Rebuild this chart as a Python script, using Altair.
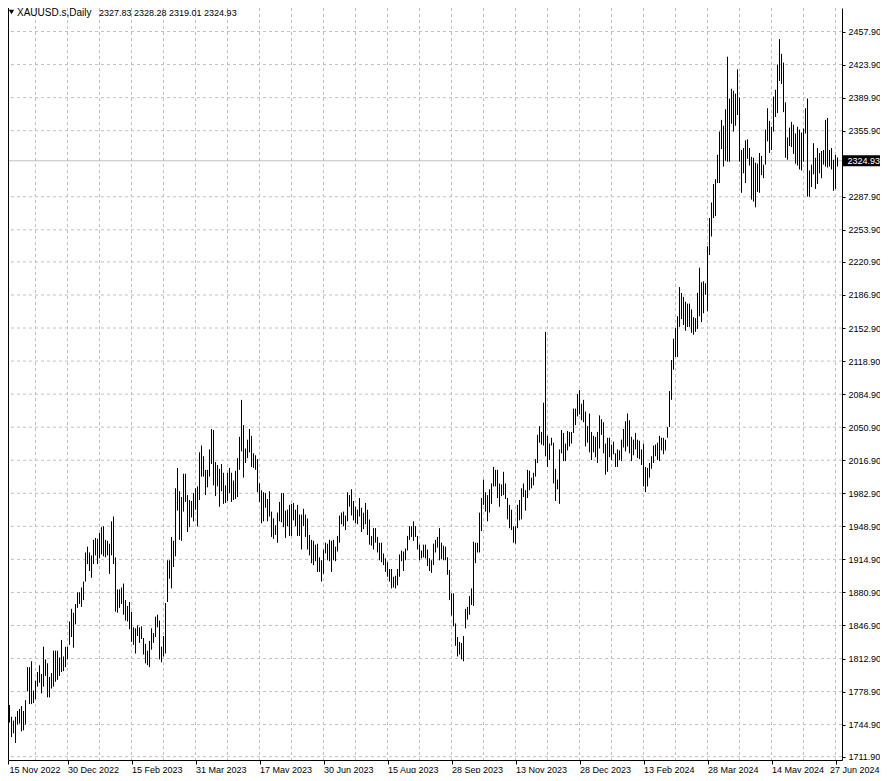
import altair as alt
import pandas as pd

symbol = "XAUUSD.s"
timeframe = "Daily"
last_ohlc = [2327.83, 2328.28, 2319.01, 2324.93]

highs = [
    1787, 1785, 1775, 1765, 1753, 1749, 1753, 1759, 1761, 1764,
    1759, 1770, 1804, 1804, 1810, 1780, 1790, 1799, 1806, 1797,
    1825, 1812, 1808, 1794, 1798, 1821, 1821, 1821, 1814, 1832,
    1815, 1825, 1825, 1851, 1864, 1860, 1869, 1881, 1881, 1886,
    1892, 1922, 1928, 1922, 1919, 1935, 1937, 1936, 1942, 1948,
    1949, 1935, 1934, 1931, 1954, 1959, 1917, 1884, 1884, 1886,
    1890, 1873, 1867, 1871, 1861, 1845, 1844, 1847, 1845, 1846,
    1834, 1828, 1821, 1831, 1844, 1839, 1856, 1858, 1852, 1825,
    1836, 1870, 1914, 1914, 1938, 1934, 1988, 2009, 1985, 1979,
    2003, 2003, 1981, 1976, 1975, 1983, 1988, 1990, 2025, 2032,
    2021, 2007, 2007, 2028, 2049, 2048, 2015, 2012, 2008, 2013,
    2004, 1991, 2004, 2009, 2004, 1996, 2006, 2019, 2041, 2079,
    2053, 2029, 2038, 2049, 2042, 2024, 2022, 2018, 1993, 1986,
    1984, 1983, 1977, 1985, 1964, 1957, 1950, 1963, 1974, 1983,
    1983, 1965, 1966, 1971, 1972, 1973, 1966, 1971, 1961, 1961,
    1967, 1961, 1957, 1940, 1935, 1934, 1930, 1931, 1917, 1914,
    1925, 1932, 1931, 1935, 1934, 1935, 1928, 1939, 1960, 1963,
    1964, 1960, 1984, 1981, 1987, 1975, 1969, 1966, 1978, 1968,
    1963, 1973, 1966, 1956, 1939, 1947, 1947, 1938, 1932, 1932,
    1921, 1916, 1912, 1905, 1905, 1897, 1898, 1905, 1920, 1924,
    1923, 1926, 1939, 1949, 1949, 1954, 1949, 1939, 1930, 1924,
    1930, 1930, 1925, 1916, 1914, 1931, 1935, 1938, 1947, 1932,
    1929, 1928, 1917, 1904, 1880, 1880, 1849, 1835, 1830, 1829,
    1836, 1864, 1866, 1877, 1885, 1933, 1932, 1932, 1963, 1978,
    1997, 1984, 1981, 1987, 1993, 2010, 2007, 2007, 1993, 1992,
    2005, 1993, 1978, 1971, 1966, 1949, 1949, 1971, 1976, 1988,
    1993, 1986, 2007, 2006, 1999, 2004, 2018, 2043, 2052, 2046,
    2076, 2149, 2042, 2034, 2040, 2035, 2008, 1997, 2028, 2048,
    2045, 2034, 2047, 2046, 2046, 2070, 2070, 2085, 2089, 2075,
    2079, 2067, 2052, 2065, 2046, 2042, 2041, 2046, 2063, 2059,
    2056, 2034, 2040, 2040, 2033, 2036, 2024, 2028, 2027, 2038,
    2049, 2057, 2065, 2058, 2041, 2038, 2045, 2038, 2037, 2028,
    2034, 2010, 2009, 2014, 2021, 2032, 2033, 2035, 2042, 2040,
    2040, 2038, 2051, 2088, 2120, 2142, 2153, 2165, 2195, 2189,
    2185, 2180, 2178, 2178, 2172, 2164, 2163, 2189, 2215, 2200,
    2201, 2199, 2237, 2266, 2282, 2301, 2306, 2331, 2355, 2367,
    2361, 2378, 2432, 2389, 2399, 2397, 2394, 2419, 2390, 2336,
    2338, 2346, 2347, 2338, 2329, 2328, 2323, 2322, 2333, 2330,
    2321, 2357, 2379, 2366, 2360, 2391, 2398, 2424, 2450, 2435,
    2426, 2385, 2349, 2359, 2365, 2362, 2353, 2360, 2357, 2354,
    2358, 2379, 2389, 2315, 2321, 2343, 2328, 2338, 2333, 2335,
    2336, 2367, 2369, 2336, 2338, 2326, 2331, 2328.28,
]

lows = [
    1766, 1768, 1756, 1747, 1732, 1736, 1726, 1745, 1746, 1738,
    1739, 1745, 1779, 1766, 1766, 1767, 1771, 1784, 1788, 1777,
    1784, 1795, 1773, 1773, 1782, 1784, 1789, 1791, 1795, 1799,
    1800, 1804, 1812, 1827, 1835, 1824, 1848, 1865, 1869, 1866,
    1873, 1892, 1910, 1903, 1896, 1910, 1919, 1910, 1916, 1920,
    1918, 1917, 1919, 1900, 1919, 1910, 1861, 1860, 1865, 1869,
    1858, 1852, 1851, 1843, 1830, 1827, 1818, 1836, 1829, 1833,
    1817, 1808, 1806, 1804, 1822, 1829, 1835, 1845, 1812, 1809,
    1815, 1818, 1871, 1895, 1885, 1907, 1918, 1965, 1935, 1934,
    1964, 1974, 1943, 1948, 1958, 1954, 1966, 1949, 1976, 2000,
    2000, 1981, 1989, 2000, 2013, 1991, 1980, 1990, 1969, 1985,
    1972, 1973, 1975, 1983, 1974, 1976, 1977, 1979, 2007, 2026,
    1999, 2014, 2019, 2025, 2010, 2009, 2007, 1984, 1974, 1952,
    1954, 1968, 1954, 1959, 1938, 1936, 1940, 1932, 1954, 1953,
    1948, 1937, 1949, 1939, 1939, 1955, 1949, 1939, 1939, 1925,
    1949, 1938, 1925, 1919, 1911, 1909, 1913, 1902, 1902, 1892,
    1900, 1921, 1914, 1913, 1902, 1914, 1913, 1923, 1932, 1951,
    1949, 1945, 1954, 1969, 1960, 1955, 1952, 1951, 1959, 1943,
    1946, 1951, 1940, 1930, 1929, 1925, 1932, 1922, 1914, 1912,
    1909, 1902, 1897, 1892, 1885, 1886, 1885, 1888, 1897, 1913,
    1903, 1914, 1924, 1935, 1938, 1934, 1938, 1925, 1914, 1916,
    1917, 1916, 1908, 1903, 1901, 1909, 1922, 1927, 1914, 1915,
    1914, 1914, 1899, 1873, 1857, 1846, 1826, 1815, 1817, 1812,
    1810, 1844, 1853, 1858, 1868, 1867, 1911, 1922, 1922, 1944,
    1971, 1964, 1954, 1963, 1972, 1990, 1990, 1978, 1969, 1980,
    1981, 1977, 1956, 1947, 1945, 1932, 1931, 1947, 1955, 1956,
    1979, 1965, 1978, 1986, 1988, 1991, 2000, 2014, 2035, 2033,
    2032, 2021, 2010, 2017, 2032, 1993, 1975, 1987, 1972, 2024,
    2016, 2016, 2027, 2031, 2034, 2045, 2053, 2062, 2064, 2058,
    2056, 2031, 2035, 2025, 2017, 2025, 2020, 2014, 2029, 2043,
    2024, 2002, 2005, 2020, 2017, 2023, 2010, 2010, 2017, 2016,
    2030, 2026, 2031, 2024, 2016, 2022, 2028, 2019, 2018, 2012,
    1990, 1984, 1990, 1999, 2008, 2014, 2021, 2017, 2016, 2027,
    2023, 2027, 2040, 2051, 2079, 2110, 2123, 2123, 2154, 2162,
    2156, 2150, 2154, 2154, 2148, 2146, 2149, 2152, 2165, 2159,
    2168, 2187, 2170, 2228, 2247, 2266, 2268, 2302, 2302, 2337,
    2319, 2325, 2324, 2324, 2363, 2355, 2361, 2372, 2324, 2292,
    2312, 2302, 2327, 2320, 2285, 2283, 2277, 2293, 2292, 2310,
    2307, 2321, 2345, 2333, 2336, 2355, 2370, 2374, 2407, 2404,
    2375, 2328, 2326, 2340, 2339, 2332, 2322, 2320, 2316, 2315,
    2324, 2353, 2288, 2288, 2298, 2311, 2296, 2301, 2312, 2307,
    2321, 2319, 2318, 2319, 2316, 2294, 2296, 2319.01,
]

x_tick_labels = [
    "15 Nov 2022", "30 Dec 2022", "15 Feb 2023", "31 Mar 2023",
    "17 May 2023", "30 Jun 2023", "15 Aug 2023", "28 Sep 2023",
    "13 Nov 2023", "28 Dec 2023", "13 Feb 2024", "28 Mar 2024",
    "14 May 2024", "27 Jun 2024",
]
x_label_step = 32
x_grid_step = 16

y_tick_values = [
    2457.90, 2423.90, 2389.90, 2355.90, 2287.90, 2253.90, 2220.90,
    2186.90, 2152.90, 2118.90, 2084.90, 2050.90, 2016.90, 1982.90,
    1948.90, 1914.90, 1880.90, 1846.90, 1812.90, 1778.90, 1744.90,
    1711.90,
]

FONT = "Liberation Sans"
GRID = "#c0c0c0"
W, H = 834, 752

n = len(highs)
bars = pd.DataFrame({"i": list(range(n)), "high": highs, "low": lows})

# 2 px per bar; last bar sits 4.5 px left of the price axis
x_domain = [2.25, 2.25 + W / 2]
xs = alt.Scale(domain=x_domain, nice=False, zero=False)
ys = alt.Scale(domain=[1708.5, 2482.1], nice=False, zero=False)

x_label_idx = [k * x_label_step for k in range(len(x_tick_labels))]
# the first label's bar lies just left of the visible window: pin it to the edge
x_label_pos = [max(v, x_domain[0]) for v in x_label_idx]
vgrid = pd.DataFrame({"i": list(range(x_grid_step, x_label_idx[-1] + 1, x_grid_step))})
hgrid = pd.DataFrame({"p": y_tick_values})
last = pd.DataFrame({"close": [last_ohlc[3]], "label": [f"{last_ohlc[3]:.2f}"]})
title_df = pd.DataFrame({
    "name": [f"{symbol},{timeframe}"],
    "ohlc": [" ".join(f"{v:.2f}" for v in last_ohlc)],
})

label_arr = "[" + ",".join(f"'{s}'" for s in x_tick_labels) + "]"

ax_x = alt.Axis(
    orient="bottom", values=x_label_pos, title=None, grid=False,
    labelExpr=f"{label_arr}[round(datum.value / {x_label_step})]",
    labelAlign="left", labelBaseline="top", labelPadding=1,
    labelOffset={"condition": [
        {"test": f"datum.value < {x_label_step / 2}", "value": 1},
        {"test": f"datum.value == {x_label_idx[-1]}", "value": -6},
    ], "value": 0},
    labelFlush=False, labelOverlap=False, labelBound=False,
    tickSize=4, tickColor="black", domainColor="black",
    labelColor="black", labelFont=FONT, labelFontSize=9,
)
ax_y = alt.Axis(
    orient="right", values=y_tick_values, title=None, grid=False,
    format=".2f", labelAlign="left", labelBaseline="middle",
    labelPadding=3, tickSize=3, tickColor="black", domainColor="black",
    labelColor="black", labelFont=FONT, labelFontSize=9,
    labelOverlap=False, labelFlush=False,
)

vgrid_layer = alt.Chart(vgrid).mark_rule(color=GRID, strokeDash=[3, 3], strokeWidth=1).encode(
    x=alt.X("i:Q", scale=xs, axis=ax_x)
)
hgrid_layer = alt.Chart(hgrid).mark_rule(color=GRID, strokeDash=[3, 3], strokeWidth=1).encode(
    y=alt.Y("p:Q", scale=ys, axis=ax_y)
)
price_line = alt.Chart(last).mark_rule(color=GRID, strokeWidth=1).encode(
    y=alt.Y("close:Q", scale=ys, axis=ax_y)
)
left_border = alt.Chart(title_df).mark_rule(color="black", strokeWidth=1).encode(
    x=alt.value(0.5), y=alt.value(0), y2=alt.value(H)
)

bar_layer = alt.Chart(bars).mark_rule(color="black", strokeWidth=1).encode(
    x=alt.X("i:Q", scale=xs, axis=ax_x),
    y=alt.Y("high:Q", scale=ys, axis=ax_y),
    y2="low:Q",
)

price_box = alt.Chart(last).mark_tick(
    color="black", orient="horizontal", size=38, thickness=11, opacity=1
).encode(x=alt.value(854), y=alt.Y("close:Q", scale=ys, axis=ax_y))
price_text = alt.Chart(last).mark_text(
    color="white", align="left", baseline="middle", font=FONT, fontSize=9
).encode(x=alt.value(839.5), y=alt.Y("close:Q", scale=ys, axis=ax_y), text="label:N")

tri = alt.Chart(title_df).mark_point(
    shape="triangle-down", filled=True, color="black", size=28, opacity=1
).encode(x=alt.value(3.5), y=alt.value(4))
title_name = alt.Chart(title_df).mark_text(
    align="left", baseline="alphabetic", font=FONT, fontSize=10, color="black"
).encode(x=alt.value(9), y=alt.value(8), text="name:N")
title_ohlc = alt.Chart(title_df).mark_text(
    align="left", baseline="alphabetic", font=FONT, fontSize=9, color="black"
).encode(x=alt.value(91), y=alt.value(8), text="ohlc:N")

chart = alt.layer(
    vgrid_layer, hgrid_layer, price_line, left_border, bar_layer,
    price_box, price_text, tri, title_name, title_ohlc,
).properties(
    width=W, height=H,
    autosize=alt.AutoSizeParams(type="none"),
    padding={"left": 0, "top": 0, "right": 38, "bottom": 13},
    background="white",
).configure_view(stroke=None)

chart.save("out.html", embed_options={"renderer": "svg", "actions": False})
